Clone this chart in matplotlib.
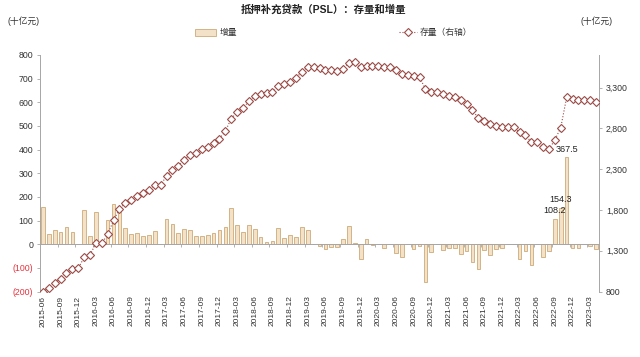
import matplotlib
matplotlib.use("Agg")
import matplotlib.pyplot as plt
import matplotlib.ticker as mticker
from matplotlib.patches import Patch
from matplotlib.lines import Line2D
import numpy as np
import pandas as pd

plt.rcParams['font.family'] = ['Liberation Sans', 'Noto Sans CJK SC', 'DejaVu Sans']

months = [str(p) for p in pd.period_range('2015-06', '2023-04', freq='M')]

increment = [159, 44, 60, 52, 71, 52, 0, 144, 36, 135,
             0, 104, 168, 150, 67, 44, 49, 35, 40, 55,
             0, 108, 84, 48, 64, 59, 35, 34, 39, 47,
             62, 71, 152, 82, 53, 82, 63, 31, 10, 14,
             70, 25, 39, 32, 72, 60, 0, -8, -21, -11,
             -11, 24, 76, 6, -62, 20, -2, 0, -15, 0,
             -37, -53, 0, -21, -8, -161, -33, 0, -25, -18,
             -18, -42, -30, -77, -106, -26, -47, -21, -14, 0,
             0, -63, -29, -90, 0, -53, -29, 108.2, 154.3, 367.5,
             -15, -15, 0, -7, -21]

stock = [800, 845, 903, 958, 1027, 1080, 1084, 1218, 1250, 1390,
         1390, 1500, 1672, 1812, 1884, 1925, 1972, 2010, 2045, 2106,
         2106, 2216, 2295, 2345, 2412, 2473, 2500, 2542, 2578, 2618,
         2675, 2765, 2920, 2998, 3052, 3130, 3192, 3222, 3234, 3247,
         3316, 3344, 3375, 3415, 3495, 3552, 3552, 3540, 3520, 3510,
         3505, 3528, 3605, 3610, 3550, 3565, 3565, 3565, 3555, 3555,
         3515, 3468, 3460, 3442, 3432, 3280, 3252, 3245, 3225, 3200,
         3185, 3145, 3100, 3027, 2922, 2895, 2850, 2830, 2818, 2818,
         2818, 2752, 2720, 2630, 2628, 2577, 2546, 2658, 2810, 3180,
         3165, 3152, 3152, 3150, 3124]

labeled = {87: '108.2', 88: '154.3', 89: '367.5'}

left_ticks = [-200, -100, 0, 100, 200, 300, 400, 500, 600, 700, 800]
right_ticks = [800, 1300, 1800, 2300, 2800, 3300]

title = '抵押补充贷款（PSL）：存量和增量'
unit = '(十亿元)'
bar_name = '增量'
line_name = '存量（右轴）'

bar_face = '#F3E1C8'
bar_edge = '#CDAA78'
line_col = '#9C4A45'
axis_col = '#A6A6A6'
text_col = '#333333'
neg_col = '#E8323C'

fig = plt.figure(figsize=(6.4, 3.57), dpi=100)
ax = fig.add_axes([40/640, 1-291.5/357, (599-40)/640, (291.5-55)/357])
x = np.arange(len(months))

ax.bar(x, increment, width=0.62, color=bar_face, edgecolor=bar_edge, linewidth=0.6, zorder=2)
for i, t in labeled.items():
    ax.annotate(t, (x[i], increment[i]), xytext=(0, 2.5), textcoords='offset points',
                ha='center', va='bottom', fontsize=6.5, color='#222222', zorder=5)

ax.set_xlim(-0.5, len(months) - 0.5)
ax.set_ylim(-200, 800)
ax.set_yticks(left_ticks)
ax.set_yticklabels([f'({abs(v)})' if v < 0 else str(v) for v in left_ticks])
for lab, v in zip(ax.get_yticklabels(), left_ticks):
    lab.set_color(neg_col if v < 0 else text_col)
ax.tick_params(axis='y', labelsize=6.3, length=2.5, width=0.6, color=axis_col, pad=2.5)

ax.spines['top'].set_visible(False)
ax.spines['right'].set_visible(False)
ax.spines['left'].set_color(axis_col)
ax.spines['left'].set_linewidth(0.7)
ax.spines['bottom'].set_position(('data', 0))
ax.spines['bottom'].set_color(axis_col)
ax.spines['bottom'].set_linewidth(0.7)

ax.set_xticks(x[::3])
ax.set_xticklabels(months[::3], rotation=90, fontsize=6.0, color=text_col, va='top')
ax.set_xticks(np.arange(2.5, len(months), 3), minor=True)
ax.tick_params(axis='x', which='major', length=0, pad=37)
ax.tick_params(axis='x', which='minor', length=2.5, width=0.6, color=axis_col, direction='out')

ax2 = ax.twinx()
ax2.plot(x, stock, linestyle=':', linewidth=0.8, color=line_col, marker='D', markersize=3.7,
         markerfacecolor='white', markeredgecolor=line_col, markeredgewidth=0.8, zorder=3)
ax2.set_ylim(800, 3700)
ax2.set_yticks(right_ticks)
ax2.yaxis.set_major_formatter(mticker.FuncFormatter(lambda v, p: f'{int(v):,}'))
ax2.tick_params(axis='y', labelsize=6.3, length=2.5, width=0.6, color=axis_col, labelcolor=text_col, pad=2.5)
for s in ['top', 'left', 'bottom']:
    ax2.spines[s].set_visible(False)
ax2.spines['right'].set_color(axis_col)
ax2.spines['right'].set_linewidth(0.7)

fig.text(0.505, 1-10/357, title, ha='center', va='center', fontsize=7.5, fontweight='bold', color='#222222')
fig.text(7/640, 1-21/357, unit, ha='left', va='center', fontsize=6.3, color=text_col)
fig.text(613/640, 1-21/357, unit, ha='right', va='center', fontsize=6.3, color=text_col)

h1 = Patch(facecolor=bar_face, edgecolor=bar_edge, linewidth=0.6)
h2 = Line2D([0], [0], linestyle=':', linewidth=0.8, color=line_col, marker='D', markersize=3.7,
            markerfacecolor='white', markeredgecolor=line_col, markeredgewidth=0.8)
fig.legend([h1], [bar_name], loc='center left', bbox_to_anchor=(195/640, 1-33/357), frameon=False,
           fontsize=6.3, handlelength=2.4, handleheight=0.7, handletextpad=0.4, borderpad=0, borderaxespad=0,
           labelcolor=text_col)
fig.legend([h2], [line_name], loc='center left', bbox_to_anchor=(399/640, 1-33/357), frameon=False,
           fontsize=6.3, handlelength=2.0, handletextpad=0.4, borderpad=0, borderaxespad=0,
           labelcolor=text_col)

fig.savefig('out.png', dpi=100)
